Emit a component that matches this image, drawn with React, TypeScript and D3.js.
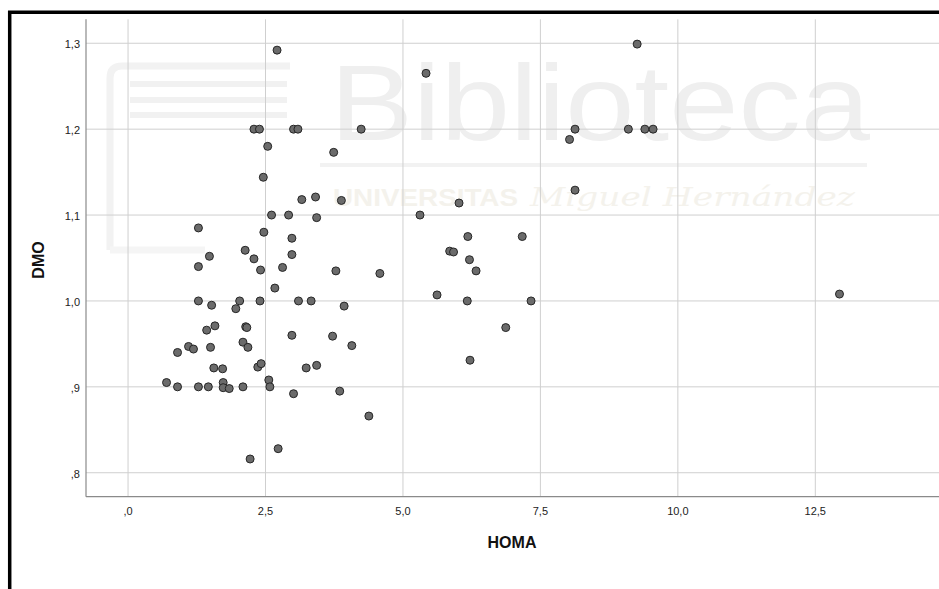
import * as d3 from "d3";

// HOMA (x) and DMO (y) for each subject
const homa = [
  2.71, 2.29, 2.39, 3.01, 3.09, 4.24, 2.54, 3.74, 2.46, 3.16,
  3.41, 3.88, 2.61, 2.92, 3.43, 1.28, 2.47, 2.98, 2.13, 1.48,
  2.29, 2.98, 1.28, 2.41, 2.81, 3.78, 4.58, 2.67, 1.28, 1.52,
  2.03, 1.96, 2.40, 3.10, 3.33, 3.93, 1.43, 1.58, 2.14, 2.16,
  2.98, 3.72, 4.07, 0.90, 1.10, 1.19, 1.50, 2.09, 2.18, 1.56,
  1.72, 2.36, 2.42, 3.24, 3.43, 0.70, 0.90, 1.28, 1.46, 1.73,
  1.73, 1.84, 2.09, 2.56, 2.58, 3.01, 3.85, 4.38, 2.73, 2.22,
  5.42, 6.02, 8.13, 5.31, 6.18, 7.17, 5.85, 5.92, 6.21, 6.33,
  5.62, 6.17, 7.33, 6.87, 6.22, 9.26, 8.13, 8.03, 9.10, 9.40,
  9.55, 12.94,
];
const dmo = [
  1.292, 1.2, 1.2, 1.2, 1.2, 1.2, 1.18, 1.173, 1.144, 1.118,
  1.121, 1.117, 1.1, 1.1, 1.097, 1.085, 1.08, 1.073, 1.059, 1.052,
  1.049, 1.054, 1.04, 1.036, 1.039, 1.035, 1.032, 1.015, 1.0, 0.995,
  1.0, 0.991, 1.0, 1.0, 1.0, 0.994, 0.966, 0.971, 0.97, 0.969,
  0.96, 0.959, 0.948, 0.94, 0.947, 0.944, 0.946, 0.952, 0.946, 0.922,
  0.921, 0.923, 0.927, 0.922, 0.925, 0.905, 0.9, 0.9, 0.9, 0.905,
  0.899, 0.898, 0.9, 0.908, 0.9, 0.892, 0.895, 0.866, 0.828, 0.816,
  1.265, 1.114, 1.129, 1.1, 1.075, 1.075, 1.058, 1.057, 1.048, 1.035,
  1.007, 1.0, 1.0, 0.969, 0.931, 1.299, 1.2, 1.188, 1.2, 1.2,
  1.2, 1.008,
];

const xTicks = [0, 2.5, 5, 7.5, 10, 12.5];
const xTickLabels = [",0", "2,5", "5,0", "7,5", "10,0", "12,5"];
const yTicks = [0.8, 0.9, 1.0, 1.1, 1.2, 1.3];
const yTickLabels = [",8", ",9", "1,0", "1,1", "1,2", "1,3"];

const W = 939;
const H = 589;
const PLOT = { left: 86, right: 939, top: 19.3, bottom: 496.7 };
const FONT = "'Liberation Sans', Arial, sans-serif";

export default function App() {
  const x = d3.scaleLinear().domain([-0.765, 14.75]).range([PLOT.left, PLOT.right]);
  const y = d3.scaleLinear().domain([0.7721, 1.3279]).range([PLOT.bottom, PLOT.top]);

  const points = homa.map((h, i) => ({ h, d: dmo[i] }));

  return (
    <svg
      width={W}
      height={H}
      style={{ position: "absolute", left: 0, top: 0, background: "#fff" }}
    >
      <rect width={W} height={H} fill="#ffffff" />

      {/* faint library watermark */}
      <g>
        <path
          d="M110,250 V78 Q110,66 122,66 H290"
          fill="none"
          stroke="#f2f2f2"
          strokeWidth={7}
        />
        <path d="M110,250 H205" fill="none" stroke="#f5f5f5" strokeWidth={7} />
        {[84, 100, 115].map((sy) => (
          <line key={sy} x1={130} x2={287} y1={sy} y2={sy} stroke="#f1f1f1" strokeWidth={6} />
        ))}
        <text
          x={330}
          y={140}
          fontFamily={FONT}
          fontSize={107}
          fill="#efefef"
          textLength={540}
          lengthAdjust="spacingAndGlyphs"
        >
          Biblioteca
        </text>
        <line x1={320} x2={867} y1={165} y2={165} stroke="#f2f2f2" strokeWidth={4} />
        <text
          x={333}
          y={206}
          fontFamily={FONT}
          fontSize={24}
          fontWeight="bold"
          fill="#f4f2ec"
          textLength={185}
          lengthAdjust="spacingAndGlyphs"
        >
          UNIVERSITAS
        </text>
        <text
          x={530}
          y={206}
          fontFamily="'DejaVu Serif', serif"
          fontSize={26}
          fontStyle="italic"
          fill="#f4f2ec"
          textLength={325}
          lengthAdjust="spacingAndGlyphs"
        >
          Miguel Hernández
        </text>
      </g>

      {/* grid */}
      {xTicks.map((t) => (
        <line
          key={"gx" + t}
          x1={x(t)}
          x2={x(t)}
          y1={PLOT.top}
          y2={PLOT.bottom}
          stroke="#cfcfcf"
          strokeWidth={1}
        />
      ))}
      {yTicks.map((t) => (
        <line
          key={"gy" + t}
          x1={PLOT.left}
          x2={PLOT.right}
          y1={y(t)}
          y2={y(t)}
          stroke="#cfcfcf"
          strokeWidth={1}
        />
      ))}

      {/* axes */}
      <line x1={PLOT.left} x2={PLOT.left} y1={PLOT.top} y2={PLOT.bottom} stroke="#8a8a8a" strokeWidth={1.2} />
      <line x1={PLOT.left} x2={PLOT.right} y1={PLOT.bottom} y2={PLOT.bottom} stroke="#8a8a8a" strokeWidth={1.2} />

      {/* tick labels */}
      {xTicks.map((t, i) => (
        <text
          key={"tx" + t}
          x={x(t)}
          y={PLOT.bottom + 18}
          textAnchor="middle"
          fontFamily={FONT}
          fontSize={11}
          fill="#222"
        >
          {xTickLabels[i]}
        </text>
      ))}
      {yTicks.map((t, i) => (
        <text
          key={"ty" + t}
          x={80}
          y={y(t) + 5}
          textAnchor="end"
          fontFamily={FONT}
          fontSize={11}
          fill="#222"
        >
          {yTickLabels[i]}
        </text>
      ))}

      {/* axis titles */}
      <text
        x={512}
        y={548}
        textAnchor="middle"
        fontFamily={FONT}
        fontSize={16}
        fontWeight="bold"
        fill="#111"
      >
        HOMA
      </text>
      <text
        transform="translate(44,260) rotate(-90)"
        textAnchor="middle"
        fontFamily={FONT}
        fontSize={16}
        fontWeight="bold"
        fill="#111"
      >
        DMO
      </text>

      {/* points */}
      {points.map((p, i) => (
        <circle
          key={i}
          cx={x(p.h)}
          cy={y(p.d)}
          r={4}
          fill="#6b6b6b"
          stroke="#262626"
          strokeWidth={1}
        />
      ))}

      {/* outer frame (left and top visible) */}
      <path d={`M9.7,${H} V12.2 H${W}`} fill="none" stroke="#000" strokeWidth={3.5} />
    </svg>
  );
}
